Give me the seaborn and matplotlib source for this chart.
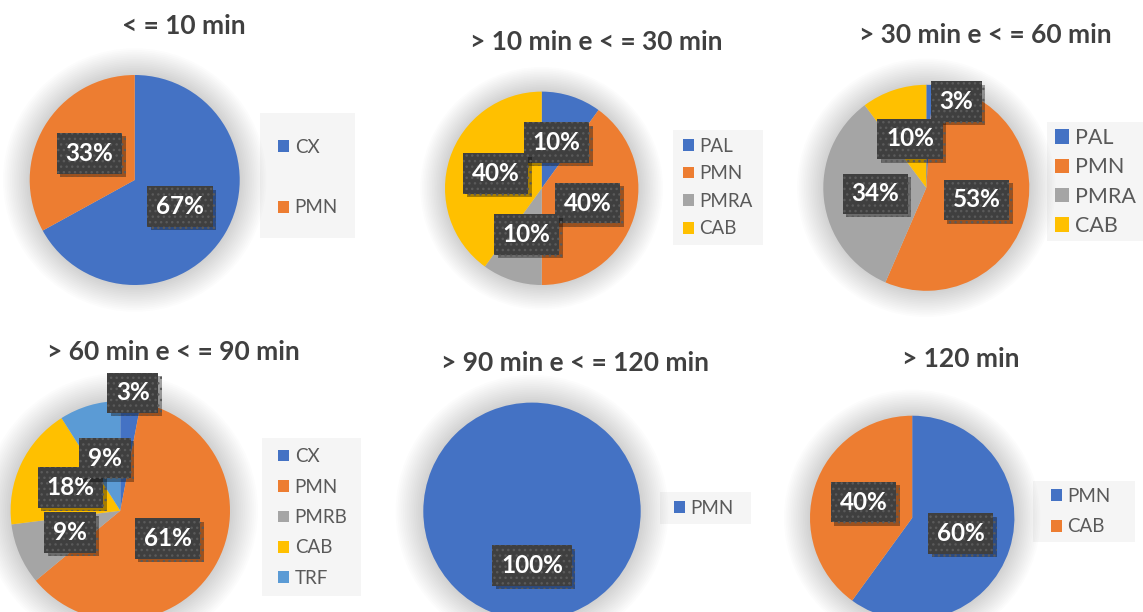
import numpy as np
import seaborn as sns
import matplotlib.pyplot as plt
import matplotlib.patheffects as pe
from matplotlib.patches import Circle, Rectangle

sns.set_theme(style='white')
plt.rcParams['font.family'] = ['Lato', 'DejaVu Sans']

# data
titles = ['< = 10 min', '> 10 min e < = 30 min', '> 30 min e < = 60 min',
          '> 60 min e < = 90 min', '> 90 min e < = 120 min', '> 120 min']

cats_1 = ['CX', 'PMN']
vals_1 = [67, 33]
pct_1 = ['67%', '33%']

cats_2 = ['PAL', 'PMN', 'PMRA', 'CAB']
vals_2 = [10, 40, 10, 40]
pct_2 = ['10%', '40%', '10%', '40%']

cats_3 = ['PAL', 'PMN', 'PMRA', 'CAB']
vals_3 = [1, 55.5, 33.3, 10.2]   # wedge sizes as drawn
pct_3 = ['3%', '53%', '34%', '10%']  # labels as printed

cats_4 = ['CX', 'PMN', 'PMRB', 'CAB', 'TRF']
vals_4 = [3, 61, 9, 18, 9]
pct_4 = ['3%', '61%', '9%', '18%', '9%']

cats_5 = ['PMN']
vals_5 = [100]
pct_5 = ['100%']

cats_6 = ['PMN', 'CAB']
vals_6 = [60, 40]
pct_6 = ['60%', '40%']

all_cats = [cats_1, cats_2, cats_3, cats_4, cats_5, cats_6]
all_vals = [vals_1, vals_2, vals_3, vals_4, vals_5, vals_6]
all_pct = [pct_1, pct_2, pct_3, pct_4, pct_5, pct_6]

office = sns.color_palette(['#4472C4', '#ED7D31', '#A5A5A5', '#FFC000', '#5B9BD5'])

# layout in pixels of the 1143x612 canvas
W, H = 1143, 612
layout = [
    dict(c=(134.7, 180.0), r=105.0, t=(184, 26), box=(260, 113, 355, 238), lx=278, ly=(146.7, 208.3), fs=13.5, mk=11),
    dict(c=(541.7, 188.3), r=96.7, t=(596, 42), box=(673, 130, 763, 245), lx=683, ly=(145, 230), fs=13.5, mk=11),
    dict(c=(926.3, 187.8), r=103.0, t=(985, 35), box=(1047, 122, 1143, 241), lx=1055, ly=(137.3, 226.7), fs=15.5, mk=14),
    dict(c=(120.3, 510.7), r=109.7, t=(173, 352), box=(262, 438, 361, 596), lx=278, ly=(455, 580), fs=13.5, mk=11),
    dict(c=(532.0, 511.3), r=108.7, t=(575, 363), box=(660, 492, 751, 524), lx=674, ly=(508.3, 508.3), fs=13.5, mk=11),
    dict(c=(912.2, 517.9), r=102.2, t=(961, 359), box=(1033, 481, 1135, 542), lx=1051, ly=(495.7, 527.3), fs=13.5, mk=11),
]
# labels Excel pushed out of their small wedges (x, y in radius units)
label_moves = {(2, 0): (0.29, 0.84), (3, 0): (0.113, 1.075)}

fig = plt.figure(figsize=(W / 100, H / 100), dpi=100)
fig.patch.set_facecolor('white')


def fig_rect(x, y, w, h):
    return [x / W, 1 - (y + h) / H, w / W, h / H]


for i, spec in enumerate(layout):
    cx, cy = spec['c']
    r = spec['r']
    ax = fig.add_axes(fig_rect(cx - r, cy - r, 2 * r, 2 * r))

    # soft glow behind the pie
    for k in range(16):
        ax.add_patch(Circle((0, 0), 1.0 + 0.017 * k, color='black', alpha=0.013,
                            lw=0, clip_on=False, zorder=0))

    wedges, _ = ax.pie(all_vals[i], colors=office[:len(all_vals[i])], startangle=90,
                       counterclock=False, radius=1,
                       wedgeprops=dict(linewidth=0, zorder=1))
    for w in wedges:
        w.set_clip_on(False)
    ax.set_xlim(-1, 1)
    ax.set_ylim(-1, 1)
    ax.axis('off')

    for j, w in enumerate(wedges):
        if (i, j) in label_moves:
            x, y = label_moves[(i, j)]
        else:
            ang = np.deg2rad((w.theta1 + w.theta2) / 2)
            x, y = 0.5 * np.cos(ang), 0.5 * np.sin(ang)
        ax.text(x, y, all_pct[i][j], ha='center', va='center', color='white',
                fontsize=17.5, fontweight='bold', zorder=5, clip_on=False,
                bbox=dict(boxstyle='square,pad=0.36', fc='#3F3F3F', ec='#5A5A5A',
                          lw=0, hatch='...',
                          path_effects=[pe.SimplePatchShadow(offset=(2.5, -2.5),
                                                             shadow_rgbFace='black',
                                                             alpha=0.35),
                                        pe.Normal()]))

    # title
    tx, ty = spec['t']
    fig.text(tx / W, 1 - ty / H, titles[i], ha='center', va='center',
             fontsize=19, fontweight='bold', color='#404040')

    # legend with light grey panel
    x0, y0, x1, y1 = spec['box']
    fig.add_artist(Rectangle((x0 / W, 1 - y1 / H), (x1 - x0) / W, (y1 - y0) / H,
                             transform=fig.transFigure, fc='#F5F5F5', ec='none', zorder=-1))
    n = len(all_cats[i])
    fs_px = spec['fs'] * 100 / 72
    if n > 1:
        step = (spec['ly'][1] - spec['ly'][0]) / (n - 1)
        spacing = (step - 0.95 * fs_px) / fs_px
    else:
        spacing = 0.5
    ymid = (spec['ly'][0] + spec['ly'][1]) / 2
    hl = spec['mk'] / fs_px
    leg = ax.legend(wedges, all_cats[i], loc='center left',
                    bbox_to_anchor=(spec['lx'] / W, 1 - ymid / H),
                    bbox_transform=fig.transFigure, frameon=False,
                    borderpad=0, borderaxespad=0, fontsize=spec['fs'],
                    handlelength=hl, handleheight=hl, handletextpad=0.3,
                    labelspacing=spacing)
    for t in leg.get_texts():
        t.set_color('#595959')

fig.savefig('out.png', dpi=100, facecolor='white')
